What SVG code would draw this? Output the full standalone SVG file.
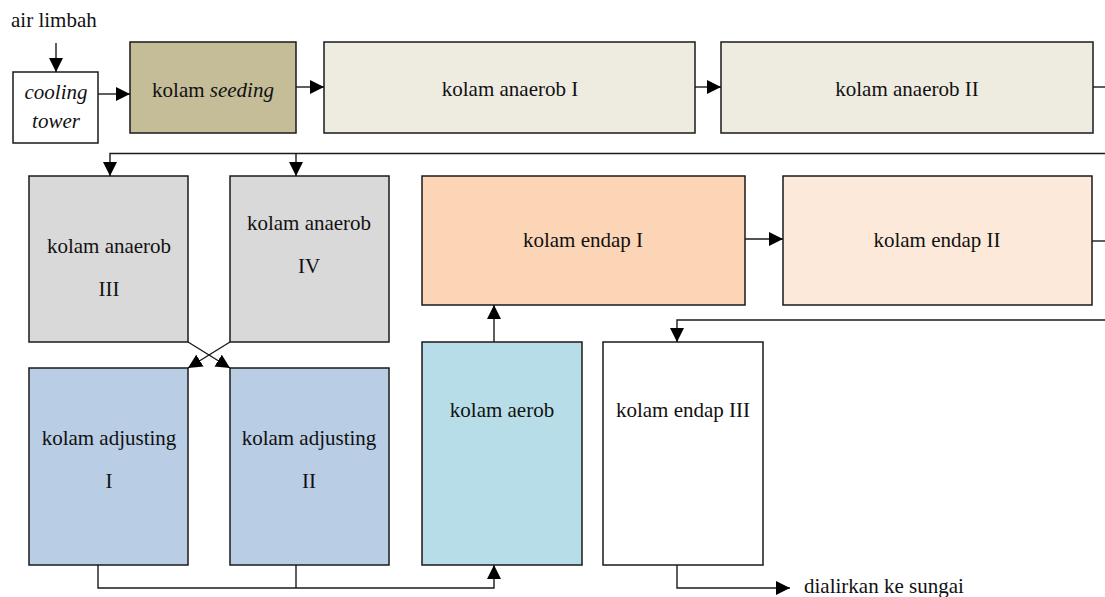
<svg xmlns="http://www.w3.org/2000/svg" width="1105" height="597" viewBox="0 0 1105 597">
<style>
.box{stroke:#1a1a1a;stroke-width:1.5}
.t{font-family:"Liberation Serif","Times New Roman",serif;font-size:21px;fill:#111;text-anchor:middle}
.i{font-style:italic}
.c{fill:none;stroke:#1a1a1a;stroke-width:1.4}
</style>
<defs>
<marker id="ah" markerUnits="userSpaceOnUse" markerWidth="15" markerHeight="14" refX="14" refY="7" orient="auto" viewBox="0 0 15 14">
<path d="M0,0 L14,7 L0,14 Z" fill="#000"/>
</marker>
</defs>
<rect width="1105" height="597" fill="#fff"/>
<text class="t" x="11" y="27" style="text-anchor:start">air limbah</text>

<g id="cooling">
<rect class="box" x="13" y="72" width="85" height="71" fill="#fff"/>
<text class="t i" x="56" y="99">cooling</text>
<text class="t i" x="56" y="128">tower</text>
</g>
<g id="seeding">
<rect class="box" x="130" y="42" width="166" height="91" fill="#C4BD97"/>
<text class="t" x="213" y="97">kolam <tspan class="i">seeding</tspan></text>
</g>
<g id="anaerob1">
<rect class="box" x="324" y="42" width="371" height="91" fill="#EEECE1"/>
<text class="t" x="510" y="96">kolam anaerob I</text>
</g>
<g id="anaerob2">
<rect class="box" x="721" y="42" width="372" height="91" fill="#EEECE1"/>
<text class="t" x="907" y="96">kolam anaerob II</text>
</g>
<g id="anaerob3">
<rect class="box" x="29" y="176" width="159" height="166" fill="#D9D9D9"/>
<text class="t" x="109" y="253">kolam anaerob</text>
<text class="t" x="109" y="296">III</text>
</g>
<g id="anaerob4">
<rect class="box" x="230" y="176" width="159" height="166" fill="#D9D9D9"/>
<text class="t" x="309" y="230">kolam anaerob</text>
<text class="t" x="309" y="273">IV</text>
</g>
<g id="endap1">
<rect class="box" x="422" y="176" width="323" height="129" fill="#FBD5B5"/>
<text class="t" x="583" y="247">kolam endap I</text>
</g>
<g id="endap2">
<rect class="box" x="783" y="176" width="309" height="129" fill="#FDE9D9"/>
<text class="t" x="937" y="247">kolam endap II</text>
</g>
<g id="adjusting1">
<rect class="box" x="29" y="368" width="159" height="197" fill="#B9CDE5"/>
<text class="t" x="109" y="445">kolam adjusting</text>
<text class="t" x="109" y="488">I</text>
</g>
<g id="adjusting2">
<rect class="box" x="230" y="368" width="159" height="197" fill="#B9CDE5"/>
<text class="t" x="309" y="445">kolam adjusting</text>
<text class="t" x="309" y="488">II</text>
</g>
<g id="aerob">
<rect class="box" x="422" y="342" width="160" height="223" fill="#B7DEE8"/>
<text class="t" x="502" y="417">kolam aerob</text>
</g>
<g id="endap3">
<rect class="box" x="603" y="342" width="160" height="223" fill="#fff"/>
<text class="t" x="683" y="417">kolam endap III</text>
</g>
<text class="t" x="804" y="593" style="text-anchor:start">dialirkan ke sungai</text>

<g id="connectors">
<path class="c" d="M56,43 V72" marker-end="url(#ah)"/>
<path class="c" d="M98,94 H130" marker-end="url(#ah)"/>
<path class="c" d="M296,87 H324" marker-end="url(#ah)"/>
<path class="c" d="M695,87 H721" marker-end="url(#ah)"/>
<path class="c" d="M1093,87 H1105"/>
<path class="c" d="M1105,153.5 H110 V176" marker-end="url(#ah)"/>
<path class="c" d="M296,153.5 V176" marker-end="url(#ah)"/>
<path class="c" d="M188,342 L230,368" marker-end="url(#ah)"/>
<path class="c" d="M230,342 L188,368" marker-end="url(#ah)"/>
<path class="c" d="M98,565 V588 H494 V565" marker-end="url(#ah)"/>
<path class="c" d="M296,565 V588"/>
<path class="c" d="M494,342 V305" marker-end="url(#ah)"/>
<path class="c" d="M745,239 H783" marker-end="url(#ah)"/>
<path class="c" d="M1092,241 H1105"/>
<path class="c" d="M1105,320 H677 V342" marker-end="url(#ah)"/>
<path class="c" d="M677,565 V588 H790" marker-end="url(#ah)"/>
</g>
</svg>
